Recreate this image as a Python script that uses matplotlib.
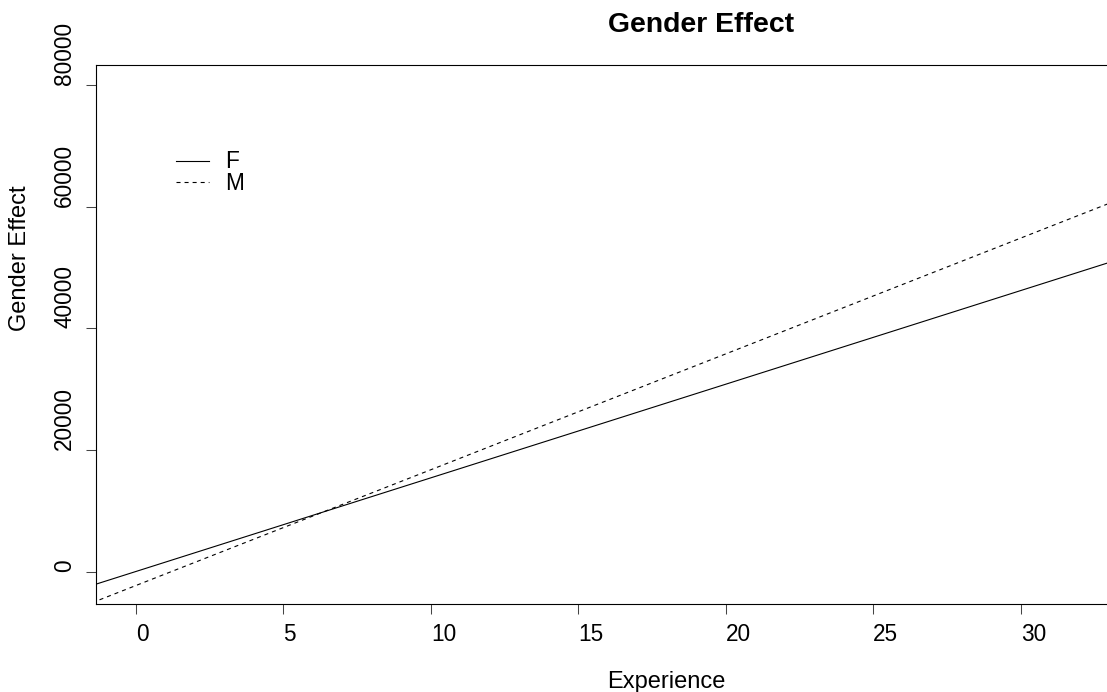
import numpy as np
import matplotlib
matplotlib.use("Agg")
import matplotlib.pyplot as plt

plt.rcParams['font.family'] = ['Liberation Sans', 'DejaVu Sans']
plt.rcParams['lines.scale_dashes'] = False

# values
experience = [-2, 0, 5, 10, 15, 20, 25, 30, 35]
effect_f = [-2986, 90, 7780, 15470, 23160, 30850, 38540, 46230, 53920]
effect_m = [-6020, -2215, 7300, 16800, 26320, 35830, 45340, 54850, 64360]
xticks = [0, 5, 10, 15, 20, 25, 30]
yticks = [0, 20000, 40000, 60000, 80000]
groups = ['F', 'M']

W, H = 1107, 692
fig = plt.figure(figsize=(W / 100, H / 100), dpi=100)

def fx(px):
    return px / W

def fy(py):
    return 1 - py / H

# plot region runs off the right edge of the picture
ax = fig.add_axes([fx(96.5), fy(604), 1101.1 / W, 539 / H])
ax.plot(experience, effect_f, color='black', lw=0.8)
ax.plot(experience, effect_m, color='black', lw=0.8, dashes=(2.9, 2.9))
ax.set_xlim(-1.34, 36.0)
ax.set_ylim(-5257, 83285)

for side in ['left', 'bottom', 'top']:
    ax.spines[side].set_linewidth(0.8)
ax.spines['right'].set_visible(False)

ax.set_xticks(xticks)
ax.set_xticklabels([str(v) for v in xticks], ha='left', fontsize=16.3)
ax.set_yticks(yticks)
ax.set_yticklabels([str(v) for v in yticks], rotation=90, va='bottom', fontsize=16.3)
ax.tick_params(axis='x', length=7.2, width=0.75, color='#444444', pad=6.5)
ax.tick_params(axis='y', length=7.2, width=0.75, color='#444444', pad=7.4)

# legend drawn by hand, R style
leg_y = [161, 182]
styles = [dict(), dict(dashes=(2.9, 2.9))]
for name, py, st in zip(groups, leg_y, styles):
    ln = plt.Line2D([fx(176), fx(209)], [fy(py), fy(py)], color='black', lw=0.8,
                    transform=fig.transFigure, **st)
    fig.add_artist(ln)
    fig.text(fx(225), fy(py + 7.5), name, fontsize=16.3, va='baseline', ha='left')

fig.text(fx(608), fy(32), 'Gender Effect', fontsize=20.4, fontweight='bold',
         va='baseline', ha='left')
fig.text(fx(607), fy(688), 'Experience', fontsize=17, va='baseline', ha='left')
fig.text(fx(20), fy(331), 'Gender Effect', fontsize=17, rotation=90,
         va='bottom', ha='center')

fig.savefig('out.png', dpi=100)
